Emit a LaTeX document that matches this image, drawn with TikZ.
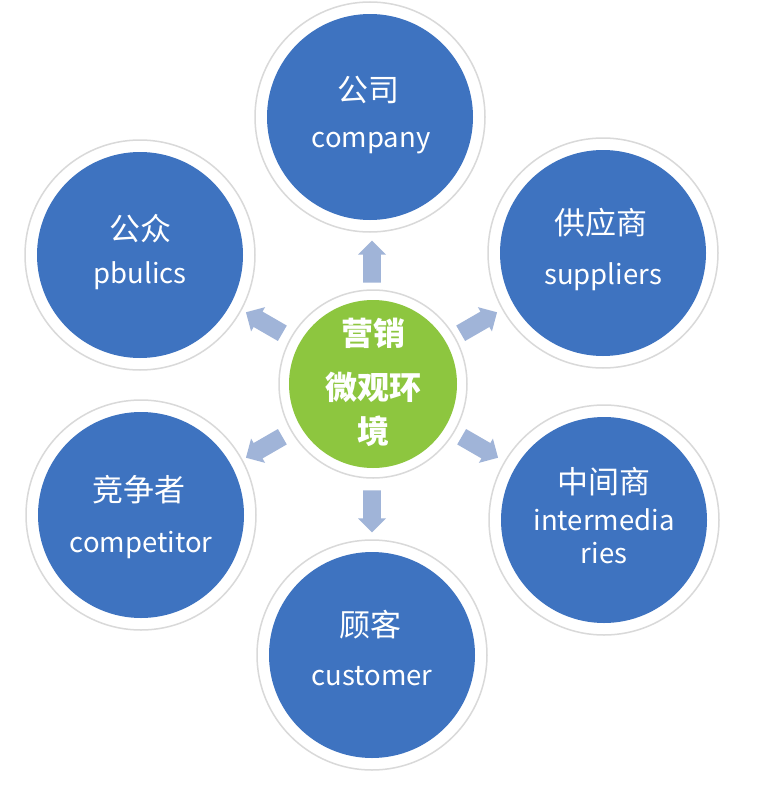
\documentclass[tikz,border=0pt]{standalone}
\usepackage{fontspec}
\setmainfont{Noto Sans CJK SC}
\usetikzlibrary{shapes.arrows}
\definecolor{blueA}{RGB}{62,115,192}
\definecolor{greenA}{RGB}{141,198,63}
\definecolor{arrowA}{RGB}{160,180,216}
\begin{document}
\begin{tikzpicture}[x=1pt,y=-1pt,
  ring/.style={circle, fill=white, draw=black!15, line width=1.5pt, minimum size=230pt, inner sep=0pt},
  bluecirc/.style={circle, fill=blueA, minimum size=206pt, inner sep=0pt, text=white, align=center},
  greenring/.style={circle, fill=white, draw=black!15, line width=1.5pt, minimum size=188pt, inner sep=0pt},
  greencirc/.style={circle, fill=greenA, minimum size=168pt, inner sep=0pt, text=white, align=center},
  zh/.style={text=white, font=\fontsize{31}{36}\selectfont},
  en/.style={text=white, font=\fontsize{27.5}{32}\selectfont},
  ctext/.style={text=white, font=\bfseries\fontsize{32}{36}\selectfont},
  outarrow/.style={single arrow, fill=arrowA, draw=none, minimum height=42pt, minimum width=28pt, single arrow head extend=5pt, inner sep=8.5pt}
]
\fill[white] (0,0) rectangle (765,787);
\useasboundingbox (0,0) rectangle (765,787);

% outer rings
\node[ring] (rco) at (370,117) {};
\node[ring] (rsu) at (603,253) {};
\node[ring] (rin) at (604,520) {};
\node[ring] (rcu) at (372,655) {};
\node[ring] (rcp) at (141,515) {};
\node[ring] (rpb) at (140,255) {};
\node[greenring] (rce) at (373,384) {};

% blue circles
\node[bluecirc] (company) at (370,117) {};
\node[bluecirc] (suppliers) at (603,253) {};
\node[bluecirc] (interm) at (604,520) {};
\node[bluecirc] (customer) at (372,655) {};
\node[bluecirc] (competitor) at (141,515) {};
\node[bluecirc] (publics) at (140,255) {};

% texts
\node[zh] (t1a) at (368,90) {公司};
\node[en] (t1b) at (371,143) {company};
\node[zh] (t2a) at (601,223) {供应商};
\node[en] (t2b) at (603,277) {suppliers};
\node[zh] (t3a) at (604,482) {中间商};
\node[en] (t3b) at (604,520) {intermedia};
\node[en] (t3c) at (604,553) {ries};
\node[zh] (t4a) at (370,625) {顾客};
\node[en] (t4b) at (372,676) {customer};
\node[zh] (t5a) at (139,490) {竞争者};
\node[en] (t5b) at (141,545) {competitor};
\node[zh] (t6a) at (140,229) {公众};
\node[en] (t6b) at (140,276) {pbulics};

% center
\node[greencirc] (center) at (373,384) {};
\node[ctext] (c1) at (373,333) {营销};
\node[ctext] (c2) at (373,387) {微观环};
\node[ctext] (c3) at (373,431) {境};

% arrows
\node[outarrow, rotate=90] (a1) at (372,266) {};
\node[outarrow, rotate=30] (a2) at (475,325) {};
\node[outarrow, rotate=-30] (a3) at (476,445) {};
\node[outarrow, rotate=-90] (a4) at (372,507) {};
\node[outarrow, rotate=-150] (a5) at (268,445) {};
\node[outarrow, rotate=150] (a6) at (268,325) {};
\end{tikzpicture}
\end{document}
